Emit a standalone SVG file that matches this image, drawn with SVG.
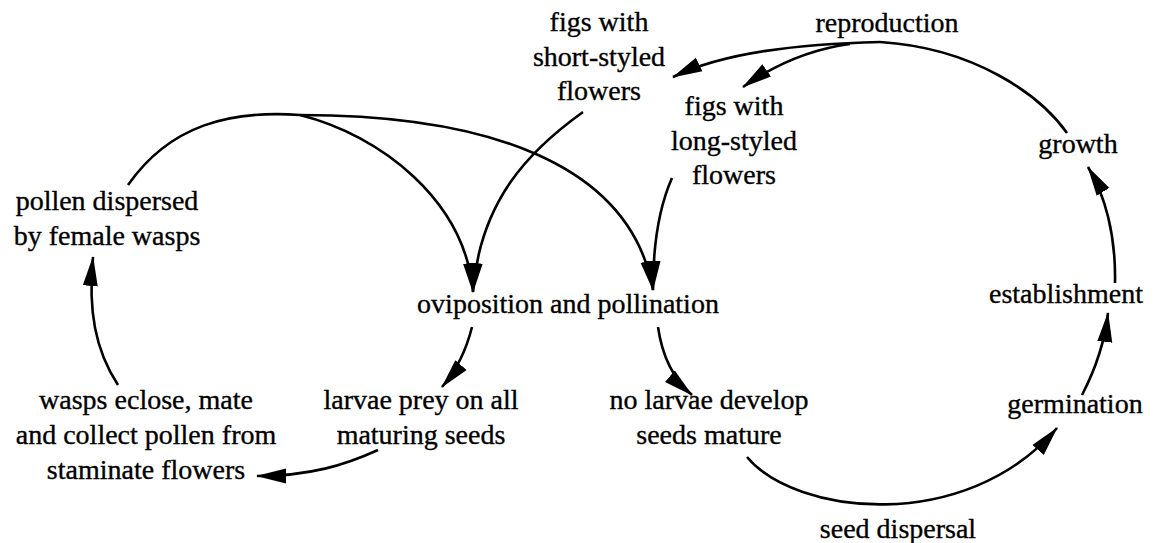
<svg xmlns="http://www.w3.org/2000/svg" width="1159" height="543" viewBox="0 0 1159 543">
<style>
text{font-family:"Liberation Serif","Times New Roman",serif;font-size:28px;fill:#000;stroke:#000;stroke-width:0.35;text-anchor:middle}
.c{fill:none;stroke:#000;stroke-width:2.6;marker-end:url(#ah)}
.n{fill:none;stroke:#000;stroke-width:2.6}
</style>
<defs>
<marker id="ah" markerUnits="userSpaceOnUse" markerWidth="32" markerHeight="16" refX="29" refY="8" orient="auto" viewBox="0 0 32 16">
<path d="M0,0.5 L30,8 L0,15.5 Z" fill="#000"/>
</marker>
</defs>
<rect width="1159" height="543" fill="#fff"/>
<g id="connectors">
<path class="n" d="M1067 133 C1040 95 975 48 880 42"/>
<path class="c" d="M880 42 C800 44 725 52 673 77"/>
<path class="c" d="M850 44 C805 50 770 68 743 87"/>
<path class="n" d="M128 185 C170 125 230 110 300 115"/>
<path class="c" d="M300 115 C380 135 465 200 473 292"/>
<path class="c" d="M300 115 C480 115 630 160 653 290"/>
<path class="c" d="M583 112 C530 150 480 200 473 292"/>
<path class="c" d="M672 178 C660 205 653 245 653 290"/>
<path class="c" d="M472 327 C465 355 455 372 442 387"/>
<path class="c" d="M658 327 C662 355 672 378 692 395"/>
<path class="c" d="M378 450 C345 465 310 476 257 476"/>
<path class="c" d="M118 385 C95 350 88 310 93 257"/>
<path class="c" d="M747 457 C795 515 965 535 1057 428"/>
<path class="c" d="M1082 395 C1095 370 1105 340 1108 313"/>
<path class="c" d="M1115 283 C1116 235 1105 195 1088 167"/>
</g>
<g id="reproduction"><text x="887" y="32">reproduction</text></g>
<g id="short-styled"><text x="599" y="31">figs with</text><text x="599" y="66">short-styled</text><text x="599" y="100">flowers</text></g>
<g id="long-styled"><text x="734" y="115">figs with</text><text x="734" y="150">long-styled</text><text x="734" y="184">flowers</text></g>
<g id="growth"><text x="1078" y="153">growth</text></g>
<g id="establishment"><text x="1066" y="303">establishment</text></g>
<g id="germination"><text x="1075" y="413">germination</text></g>
<g id="seed-dispersal"><text x="898" y="538">seed dispersal</text></g>
<g id="no-larvae"><text x="709" y="409">no larvae develop</text><text x="709" y="444">seeds mature</text></g>
<g id="oviposition"><text x="568" y="313">oviposition and pollination</text></g>
<g id="larvae-prey"><text x="421" y="409">larvae prey on all</text><text x="421" y="444">maturing seeds</text></g>
<g id="wasps-eclose"><text x="146" y="409">wasps eclose, mate</text><text x="146" y="444">and collect pollen from</text><text x="146" y="479">staminate flowers</text></g>
<g id="pollen-dispersed"><text x="107" y="210">pollen dispersed</text><text x="107" y="245">by female wasps</text></g>
</svg>
